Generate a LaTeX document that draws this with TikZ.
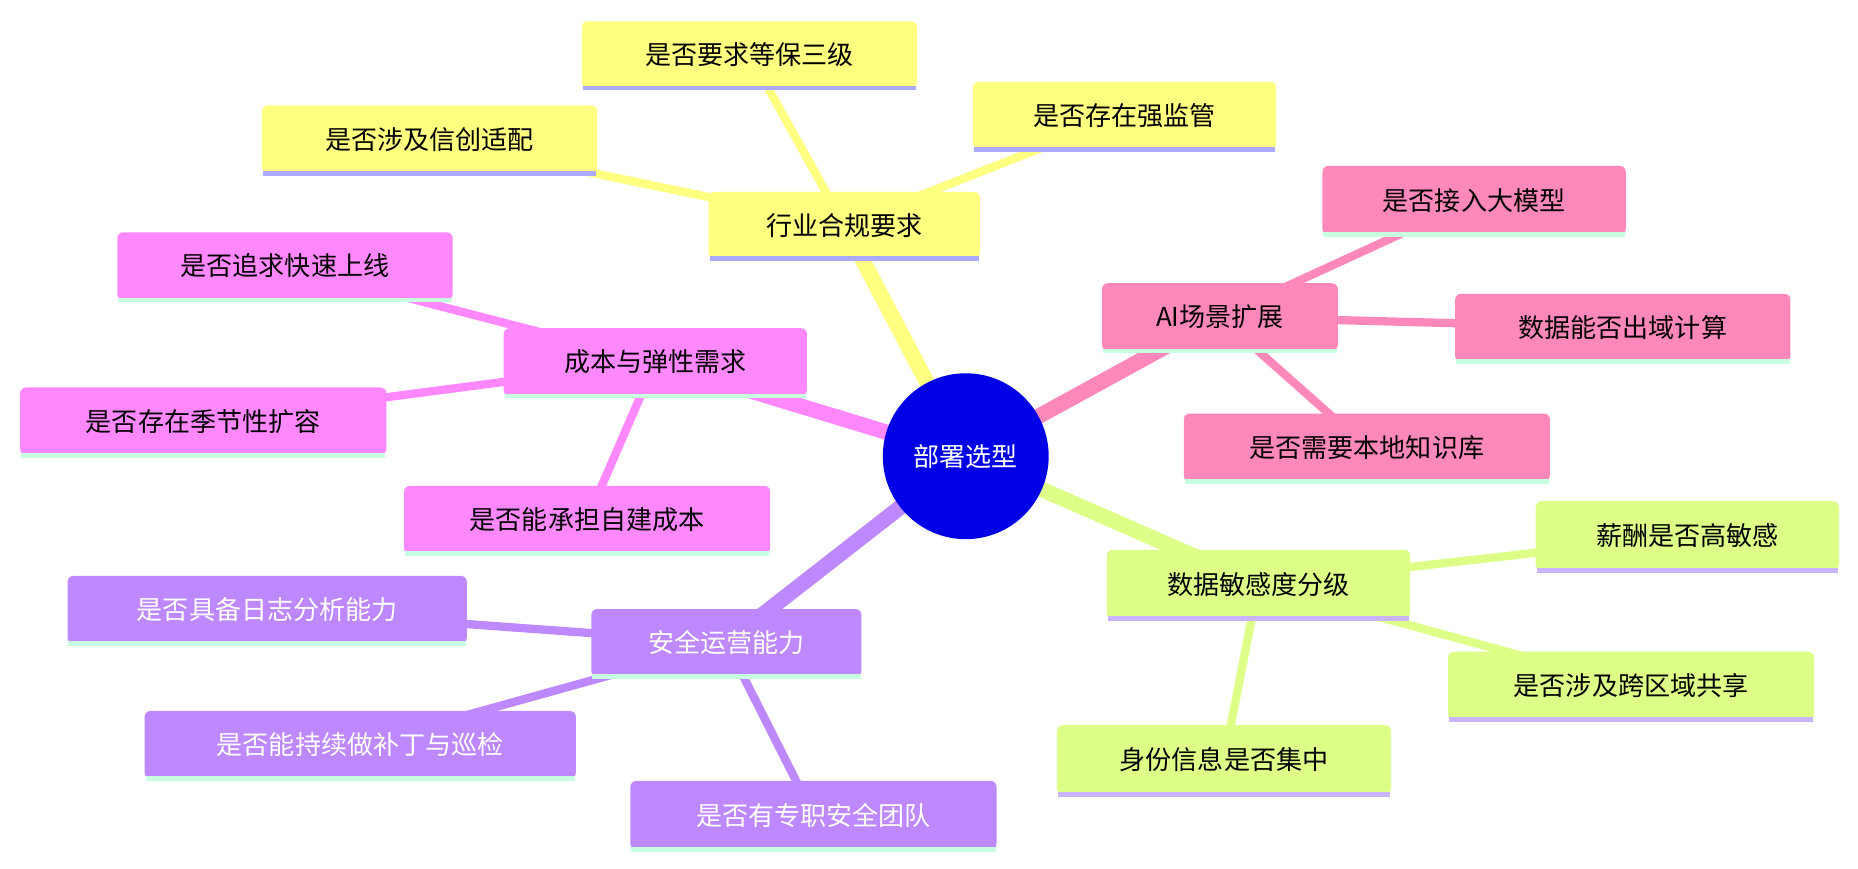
\documentclass[tikz,border=0pt]{standalone}
\usepackage{fontspec}
\setmainfont{Noto Sans CJK SC}
\usetikzlibrary{backgrounds}
\definecolor{cY}{RGB}{255,255,128}
\definecolor{cP}{RGB}{255,136,187}
\definecolor{cG}{RGB}{221,255,136}
\definecolor{cV}{RGB}{190,136,255}
\definecolor{cM}{RGB}{255,136,255}
\definecolor{lL}{RGB}{170,170,255}
\definecolor{lM}{RGB}{200,255,225}
\definecolor{lV}{RGB}{200,180,255}
\newcommand\bx[8]{%
  \node[box,fill=#6,text=#8,minimum width={(#3-#2)*1pt},minimum height={(#5-#4)*1pt}] (#1) at ({(#2+#3)/2},{(#4+#5)/2}) {#7};
  \draw[line width=4pt,draw=#6!0!lL] (#1.south west) -- (#1.south east);}
\newcommand\bxl[9]{%
  \node[box,fill=#6,text=#8,minimum width={(#3-#2)*1pt},minimum height={(#5-#4)*1pt}] (#1) at ({(#2+#3)/2},{(#4+#5)/2}) {#7};
  \draw[line width=4pt,draw=#9] ([xshift=1pt]#1.south west) -- ([xshift=-1pt]#1.south east);}
\begin{document}
\begin{tikzpicture}[x=1pt,y=-1pt,
  box/.style={rectangle,rounded corners=5pt,inner sep=0pt,font=\fontsize{22}{26}\selectfont},
  trunk/.style={line width=13pt},
  leaf/.style={line width=7pt}]
\useasboundingbox (0,0) rectangle (1568,733);
\node[circle,fill={rgb,255:red,0;green,0;blue,230},text=white,minimum size=140pt,inner sep=0pt,font=\fontsize{22}{26}\selectfont] (c) at (815,385) {部署选型};
\bxl{a}{598}{827}{162}{218}{cY}{行业合规要求}{black}{lL}
\bxl{a1}{491}{774}{18}{74}{cY}{是否要求等保三级}{black}{lL}
\bxl{a2}{221}{504}{89}{146}{cY}{是否涉及信创适配}{black}{lL}
\bxl{a3}{821}{1077}{69}{126}{cY}{是否存在强监管}{black}{lL}
\bxl{b}{930}{1129}{239}{296}{cP}{AI场景扩展}{black}{lM}
\bxl{b1}{1116}{1372}{140}{198}{cP}{是否接入大模型}{black}{lM}
\bxl{b2}{1228}{1511}{248}{305}{cP}{数据能否出域计算}{black}{lM}
\bxl{b3}{999}{1308}{349}{406}{cP}{是否需要本地知识库}{black}{lM}
\bxl{d}{934}{1190}{464}{522}{cG}{数据敏感度分级}{black}{lV}
\bxl{d1}{1296}{1552}{423}{481}{cG}{薪酬是否高敏感}{black}{lV}
\bxl{d2}{1222}{1531}{550}{607}{cG}{是否涉及跨区域共享}{black}{lV}
\bxl{d3}{892}{1174}{612}{670}{cG}{身份信息是否集中}{black}{lV}
\bxl{e}{499}{727}{514}{571}{cV}{安全运营能力}{white}{lM}
\bxl{e1}{57}{394}{486}{543}{cV}{是否具备日志分析能力}{white}{lM}
\bxl{e2}{122}{486}{600}{657}{cV}{是否能持续做补丁与巡检}{white}{lM}
\bxl{e3}{532}{841}{659}{717}{cV}{是否有专职安全团队}{white}{lM}
\bxl{f}{425}{681}{277}{334}{cM}{成本与弹性需求}{black}{lM}
\bxl{f1}{99}{382}{196}{253}{cM}{是否追求快速上线}{black}{lM}
\bxl{f2}{17}{326}{327}{384}{cM}{是否存在季节性扩容}{black}{lM}
\bxl{f3}{341}{650}{410}{467}{cM}{是否能承担自建成本}{black}{lM}
\begin{scope}[on background layer]
\draw[trunk,cY] (c.center) -- (a.center);
\draw[trunk,cP] (c.center) -- (b.center);
\draw[trunk,cG] (c.center) -- (d.center);
\draw[trunk,cV] (c.center) -- (e.center);
\draw[trunk,cM] (c.center) -- (f.center);
\foreach \p/\q/\k in {a/a1/cY,a/a2/cY,a/a3/cY,b/b1/cP,b/b2/cP,b/b3/cP,d/d1/cG,d/d2/cG,d/d3/cG,e/e1/cV,e/e2/cV,e/e3/cV,f/f1/cM,f/f2/cM,f/f3/cM}
  \draw[leaf,\k] (\p.center) -- (\q.center);
\end{scope}
\end{tikzpicture}
\end{document}
